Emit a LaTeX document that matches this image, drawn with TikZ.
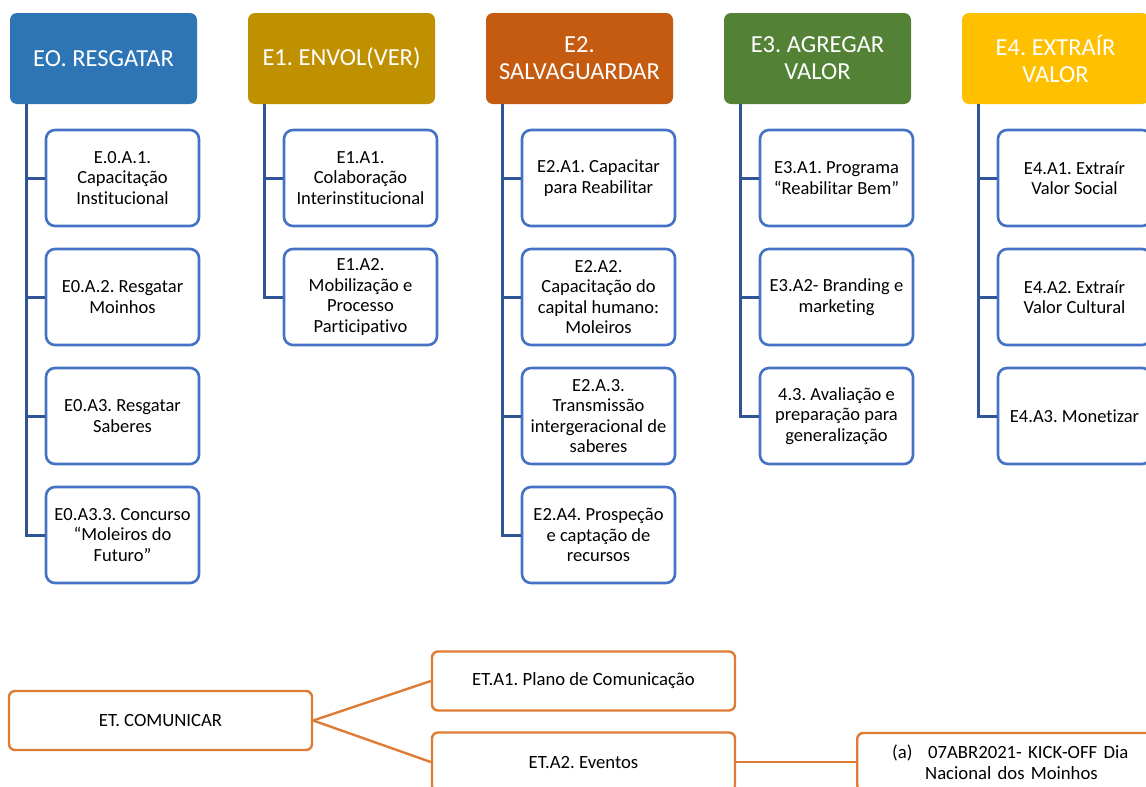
\documentclass[tikz,border=0pt]{standalone}
\usepackage{fontspec}
\setmainfont[Ligatures={NoCommon}]{Carlito}
\usepackage{xcolor}
\usetikzlibrary{positioning, calc}
\frenchspacing

\definecolor{headblue}{RGB}{46,117,182}
\definecolor{headgold}{RGB}{191,144,0}
\definecolor{headrust}{RGB}{197,90,17}
\definecolor{headgreen}{RGB}{83,129,53}
\definecolor{headamber}{RGB}{255,192,0}
\definecolor{actblue}{RGB}{68,114,196}
\definecolor{linkblue}{RGB}{47,85,151}
\definecolor{comorange}{RGB}{222,123,52}

\begin{document}
\begin{tikzpicture}[x=1pt, y=-1pt, every node/.style={align=center},
  head/.style={rectangle, rounded corners=7pt, minimum width=187pt, minimum height=91pt,
    text=white, font=\fontsize{24.5}{27}\selectfont, inner sep=2pt},
  act/.style={rectangle, draw=actblue, line width=2.6pt, rounded corners=9pt, fill=white,
    minimum width=153pt, minimum height=96pt, font=\fontsize{18.5}{20.5}\selectfont, inner sep=2pt},
  branch/.style={draw=linkblue, line width=3pt},
  com/.style={rectangle, draw=comorange, line width=2.4pt, rounded corners=6pt,
    minimum width=303pt, minimum height=59pt, font=\fontsize{18.7}{21.5}\selectfont},
  comlink/.style={draw=comorange, line width=2.4pt}]
  \useasboundingbox (0,0) rectangle (1146,787);
  \clip (0,0) rectangle (1146,787);

  % Headers
  \node[head, fill=headblue]  (h0) at (103.5,58.5)  {EO. RESGATAR};
  \node[head, fill=headgold]  (h1) at (341.5,58.5)  {E1. ENVOL(VER)};
  \node[head, fill=headrust]  (h2) at (579.5,58.5)  {E2.\\SALVAGUARDAR};
  \node[head, fill=headgreen] (h3) at (817.5,58.5)  {E3. AGREGAR\\VALOR};
  \node[head, fill=headamber] (h4) at (1055.5,58.5) {E4. EXTRAÍR\\VALOR};

  % E0 actions
  \node[act] (a01) at (122.5,178) {E.0.A.1.\\Capacitação\\Institucional};
  \node[act] (a02) at (122.5,297) {E0.A.2. Resgatar\\Moinhos};
  \node[act] (a03) at (122.5,416) {E0.A3. Resgatar\\Saberes};
  \node[act] (a04) at (122.5,535) {E0.A3.3. Concurso\\“Moleiros do\\Futuro”};

  % E1 actions
  \node[act] (a11) at (360.5,178) {E1.A1.\\Colaboração\\Interinstitucional};
  \node[act] (a12) at (360.5,297) {E1.A2.\\Mobilização e\\Processo\\Participativo};

  % E2 actions
  \node[act] (a21) at (598.5,178) {E2.A1. Capacitar\\para Reabilitar};
  \node[act] (a22) at (598.5,297) {E2.A2.\\Capacitação do\\capital humano:\\Moleiros};
  \node[act] (a23) at (598.5,416) {E2.A.3.\\Transmissão\\intergeracional de\\saberes};
  \node[act] (a24) at (598.5,535) {E2.A4. Prospeção\\e captação de\\recursos};

  % E3 actions
  \node[act] (a31) at (836.5,178) {E3.A1. Programa\\“Reabilitar Bem”};
  \node[act] (a32) at (836.5,297) {E3.A2- Branding e\\marketing};
  \node[act] (a33) at (836.5,416) {4.3. Avaliação e\\preparação para\\generalização};

  % E4 actions
  \node[act] (a41) at (1074.5,178) {E4.A1. Extraír\\Valor Social};
  \node[act] (a42) at (1074.5,297) {E4.A2. Extraír\\Valor Cultural};
  \node[act] (a43) at (1074.5,416) {E4.A3. Monetizar};

  % Tree lines
  \draw[branch] ([xshift=17pt]h0.south west) |- (a01.west);
  \draw[branch] ([xshift=17pt]h0.south west) |- (a02.west);
  \draw[branch] ([xshift=17pt]h0.south west) |- (a03.west);
  \draw[branch] ([xshift=17pt]h0.south west) |- (a04.west);
  \draw[branch] ([xshift=17pt]h1.south west) |- (a11.west);
  \draw[branch] ([xshift=17pt]h1.south west) |- (a12.west);
  \draw[branch] ([xshift=17pt]h2.south west) |- (a21.west);
  \draw[branch] ([xshift=17pt]h2.south west) |- (a22.west);
  \draw[branch] ([xshift=17pt]h2.south west) |- (a23.west);
  \draw[branch] ([xshift=17pt]h2.south west) |- (a24.west);
  \draw[branch] ([xshift=17pt]h3.south west) |- (a31.west);
  \draw[branch] ([xshift=17pt]h3.south west) |- (a32.west);
  \draw[branch] ([xshift=17pt]h3.south west) |- (a33.west);
  \draw[branch] ([xshift=17pt]h4.south west) |- (a41.west);
  \draw[branch] ([xshift=17pt]h4.south west) |- (a42.west);
  \draw[branch] ([xshift=17pt]h4.south west) |- (a43.west);

  % Communication
  \node[com] (et)   at (160.5,720.5) {ET. COMUNICAR};
  \node[com] (eta1) at (583.5,681)   {ET.A1. Plano de Comunicação};
  \node[com] (eta2) at (583.5,762)   {ET.A2. Eventos};
  \node[com, anchor=west, align=left, text width=260pt, inner xsep=35pt, minimum height=58pt]
    (ev1) at (856,762) {\makebox[36pt][l]{(a)}07ABR2021- KICK-OFF Dia\\\hspace*{33pt}Nacional dos Moinhos};

  \draw[comlink] (et.east) -- (eta1.west);
  \draw[comlink] (et.east) -- (eta2.west);
  \draw[comlink] (eta2.east) -- (ev1.west);
\end{tikzpicture}
\end{document}
